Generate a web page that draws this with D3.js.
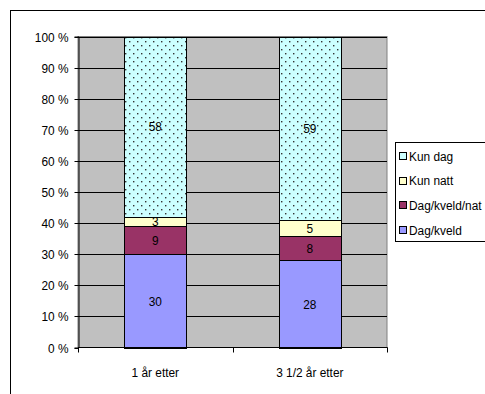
<!DOCTYPE html>
<html><head><meta charset="utf-8">
<script src="https://cdn.jsdelivr.net/npm/d3@7"></script>
<style>
html,body{margin:0;padding:0;background:#fff;overflow:hidden;}
text{font-family:"Liberation Sans",Arial,sans-serif;font-size:13.5px;fill:#000;transform-box:fill-box;}
text.mid{transform:scaleX(0.88);transform-origin:center;}
text.end{transform:scaleX(0.88);transform-origin:right center;}
text.start{transform:scaleX(0.88);transform-origin:left center;}
</style></head>
<body>
<svg id="c" width="485" height="394"></svg>
<script>
const categories = ["1 år etter", "3 1/2 år etter"];
const seriesNames = ["Dag/kveld", "Dag/kveld/natt", "Kun natt", "Kun dag"];
const legendLabels = ["Dag/kveld", "Dag/kveld/nat", "Kun natt", "Kun dag"];
const dagKveld = [30, 28];
const dagKveldNatt = [9, 8];
const kunNatt = [3, 5];
const kunDag = [58, 59];
const yTicks = [0, 10, 20, 30, 40, 50, 60, 70, 80, 90, 100];
const colors = ["#9999FF", "#993366", "#FFFFCC", "url(#dots)"];
const swatchColors = ["#9999FF", "#993366", "#FFFFCC", "#CCFFFF"];

const svg = d3.select("#c");
const defs = svg.append("defs");
const pat = defs.append("pattern").attr("id", "dots").attr("patternUnits", "userSpaceOnUse")
  .attr("width", 8).attr("height", 8);
pat.append("rect").attr("width", 8).attr("height", 8).attr("fill", "#CCFFFF");
pat.append("rect").attr("x", 1).attr("y", 1).attr("width", 1.4).attr("height", 1.4).attr("fill", "#333");
pat.append("rect").attr("x", 5).attr("y", 5).attr("width", 1.4).attr("height", 1.4).attr("fill", "#333");

// outer frame
svg.append("rect").attr("x", 10.5).attr("y", 10.5).attr("width", 520).attr("height", 420)
  .attr("fill", "none").attr("stroke", "#000").attr("stroke-width", 1);

const L = 78, R = 387, T = 36.5, B = 347.5;
const x = d3.scaleBand().domain(categories).range([L, R]).paddingInner(0.6).paddingOuter(0.3);
const y = d3.scaleLinear().domain([0, 100]).range([B, T]);

// plot background
svg.append("rect").attr("x", L).attr("y", T).attr("width", R - L).attr("height", B - T)
  .attr("fill", "#C0C0C0").attr("stroke", "#808080").attr("stroke-width", 1);

// gridlines
svg.append("g").selectAll("line").data(yTicks.filter(d => d > 0)).join("line")
  .attr("x1", L).attr("x2", R).attr("y1", d => Math.round(y(d)) + 0.5).attr("y2", d => Math.round(y(d)) + 0.5)
  .attr("stroke", "#000").attr("stroke-width", 1);

// stacked data
const rows = categories.map((c, i) => ({cat: c, "Dag/kveld": dagKveld[i], "Dag/kveld/natt": dagKveldNatt[i], "Kun natt": kunNatt[i], "Kun dag": kunDag[i]}));
const stack = d3.stack().keys(seriesNames)(rows);

const gBars = svg.append("g");
stack.forEach((layer, si) => {
  gBars.selectAll(null).data(layer).join("rect")
    .attr("x", d => Math.round(x(d.data.cat)) + 0.5)
    .attr("width", Math.round(x.bandwidth()))
    .attr("y", d => Math.round(y(d[1])) + 0.5)
    .attr("height", d => Math.round(y(d[0])) - Math.round(y(d[1])))
    .attr("fill", colors[si]).attr("stroke", "#000").attr("stroke-width", 1);
});
stack.forEach((layer, si) => {
  gBars.selectAll(null).data(layer).join("text").attr("class", "mid")
    .attr("x", d => x(d.data.cat) + x.bandwidth() / 2)
    .attr("y", d => (y(d[0]) + y(d[1])) / 2)
    .attr("text-anchor", "middle").attr("dominant-baseline", "central")
    .text(d => d[1] - d[0]);
});

// y axis
const yAxis = d3.axisLeft(y).tickValues(yTicks).tickSize(4).tickFormat(d => d + " %");
const ga = svg.append("g").attr("transform", `translate(${L + 0.5},0)`).call(yAxis);
ga.attr("font-family", null).attr("font-size", null);
ga.select(".domain").attr("stroke", "#000");
ga.selectAll(".tick line").attr("stroke", "#000");
ga.selectAll(".tick").attr("transform", d => `translate(0,${Math.round(y(d)) + 0.5})`);
ga.selectAll(".tick text").attr("x", -10).attr("class", "end");

// x axis
const gx = svg.append("g").attr("transform", `translate(0,${B})`);
gx.append("line").attr("x1", L).attr("x2", R + 0.5).attr("y1", 0).attr("y2", 0).attr("stroke", "#000");
const bounds = [L, (L + R) / 2, R];
gx.selectAll("line.tk").data(bounds).join("line").attr("class", "tk")
  .attr("x1", d => Math.round(d) + 0.5).attr("x2", d => Math.round(d) + 0.5)
  .attr("y1", 0).attr("y2", 5).attr("stroke", "#000");
gx.selectAll("text").data(categories).join("text").attr("class", "mid")
  .attr("x", d => x(d) + x.bandwidth() / 2).attr("y", 30)
  .attr("text-anchor", "middle").text(d => d);

// legend
const lg = svg.append("g");
lg.append("rect").attr("x", 395.5).attr("y", 142.5).attr("width", 120).attr("height", 99)
  .attr("fill", "#fff").attr("stroke", "#000");
const order = [3, 2, 1, 0];
order.forEach((si, i) => {
  const cy = 156 + i * 24.7;
  lg.append("rect").attr("x", 399.5).attr("y", Math.round(cy - 4) + 0.5).attr("width", 7).attr("height", 7)
    .attr("fill", swatchColors[si]).attr("stroke", "#000");
  lg.append("text").attr("class", "start").attr("x", 409).attr("y", cy).attr("dominant-baseline", "central").text(legendLabels[si]);
});
</script>
</body></html>
